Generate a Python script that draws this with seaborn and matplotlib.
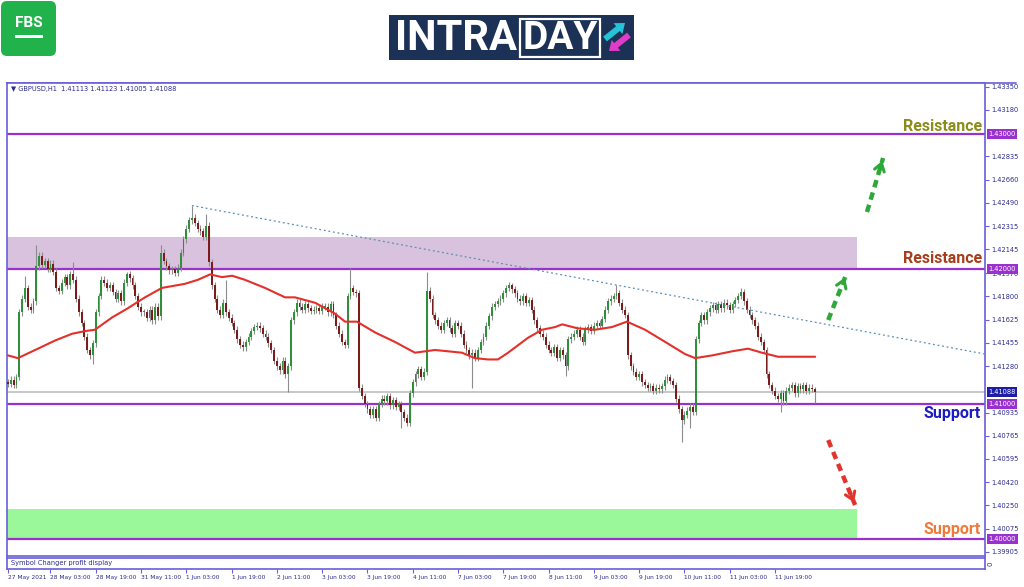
import numpy as np
import pandas as pd
import seaborn as sns
import matplotlib.pyplot as plt
import matplotlib.transforms as mtransforms
from matplotlib.patches import Rectangle, FancyBboxPatch, FancyArrow

# ---- chart values: GBPUSD H1, 27 May - 11 Jun 2021 ----
BASE = 1.40000  # candle / MA values below are in pips (0.0001) above BASE

closes = [
    115, 118, 114, 120, 168, 178, 186, 172, 170, 176, 202, 210, 203, 206, 200, 204,
    198, 186, 184, 190, 194, 188, 196, 192, 178, 168, 160, 150, 140, 136, 145, 168,
    180, 192, 190, 186, 188, 183, 178, 182, 176, 190, 196, 193, 188, 180, 172, 168,
    168, 164, 170, 162, 172, 165, 212, 206, 202, 199, 200, 197, 201, 212, 222, 230,
    236, 238, 234, 230, 228, 224, 232, 205, 188, 178, 170, 166, 175, 168, 164, 160,
    155, 148, 144, 142, 146, 150, 154, 157, 158, 156, 152, 150, 145, 140, 132, 128,
    125, 132, 122, 128, 162, 168, 175, 172, 170, 174, 171, 169, 170, 171, 169, 172,
    172, 168, 174, 166, 158, 152, 146, 144, 180, 186, 183, 182, 112, 106, 100, 96,
    92, 96, 90, 100, 104, 102, 106, 99, 103, 98, 100, 94, 90, 86, 108, 116,
    122, 126, 120, 124, 184, 178, 166, 162, 158, 155, 160, 162, 156, 152, 160, 158,
    152, 144, 140, 136, 138, 134, 140, 146, 150, 158, 165, 172, 174, 176, 178, 182,
    186, 188, 185, 182, 178, 176, 180, 175, 177, 170, 162, 156, 152, 150, 144, 140,
    138, 142, 134, 140, 136, 128, 148, 150, 152, 155, 150, 146, 155, 157, 154, 158,
    160, 158, 163, 170, 176, 178, 180, 182, 175, 170, 166, 136, 128, 124, 120, 122,
    116, 114, 112, 113, 110, 112, 111, 113, 118, 120, 117, 114, 104, 96, 88, 92,
    95, 98, 94, 148, 160, 166, 162, 168, 171, 173, 170, 174, 171, 175, 173, 170,
    174, 177, 180, 183, 176, 170, 166, 162, 158, 150, 146, 140, 122, 114, 110, 106,
    104, 108, 102, 110, 112, 114, 108, 113, 111, 114, 110, 112, 111.13, 108.8,
]
first_open = 116
wick_highs = {6: 195, 10: 218, 23: 205, 42: 198, 54: 218, 65: 247, 70: 241, 77: 192,
              121: 201, 148: 198, 178: 190, 215: 188, 259: 186, 285: 112.3}
wick_lows = {30: 130, 99: 109, 139: 82, 164: 112, 197: 121, 238: 72, 241: 82,
             273: 94, 285: 100.5}

# red moving average (bar index, pips)
ma_bars = [0, 3.5, 10.6, 16.6, 22.6, 27.2, 30.7, 36.7, 42.4, 48.4, 54.4, 62.5, 67.1,
           71.4, 75.6, 79.2, 83.7, 90.8, 97.9, 101.4, 108.5, 115.5, 119.1, 123.3,
           129.7, 136.7, 143.8, 147.3, 150.9, 160.4, 164.9, 169.6, 173.1, 176.7,
           183.7, 188.7, 193.3, 195.8, 201.4, 207.4, 213.4, 218.7, 225.1, 232.2,
           239.2, 242.8, 248.8, 255.8, 261.5, 266.4, 272.1, 285.2]
ma_pips = [136, 134, 141, 147, 152, 154, 155, 164, 171, 179, 186, 189, 192,
           196, 194, 195, 192, 186, 179, 179, 175, 167, 161, 161,
           153, 146, 138, 139, 140, 138, 134, 133, 133, 138,
           149, 155, 157, 159, 156, 155, 157, 161, 155, 146,
           137, 134, 136, 139, 141, 138, 135, 135]

trend_bars = [65, 345.2]
trend_prices = [1.42470, 1.41370]

levels = [1.43000, 1.42000, 1.41000, 1.40000]
bid_price = 1.41088
resist_zone = [1.42000, 1.42237]
support_zone = [1.40010, 1.40222]
zone_end_bar = 300

ytick_values = [1.43350, 1.43180, 1.42835, 1.42660, 1.42490, 1.42315, 1.42145,
                1.41970, 1.41800, 1.41625, 1.41455, 1.41280, 1.40935, 1.40765,
                1.40595, 1.40420, 1.40250, 1.40075, 1.39905]
xtick_bars = [0, 15, 31, 47, 63, 79, 95, 111, 127, 143, 159, 175, 191, 207, 223,
              239, 255, 271]
xtick_labels = ["27 May 2021", "28 May 03:00", "28 May 19:00", "31 May 11:00",
                "1 Jun 03:00", "1 Jun 19:00", "2 Jun 11:00", "3 Jun 03:00",
                "3 Jun 19:00", "4 Jun 11:00", "7 Jun 03:00", "7 Jun 19:00",
                "8 Jun 11:00", "9 Jun 03:00", "9 Jun 19:00", "10 Jun 11:00",
                "11 Jun 03:00", "11 Jun 19:00"]

# scenario arrows: (bar0, price0, bar1, price1, colour)
arrows = [(303.5, 1.42422, 309.2, 1.42822, "#2fa83a"),
          (289.8, 1.41622, 296.1, 1.41956, "#2fa83a"),
          (289.8, 1.40733, 299.3, 1.40252, "#e2342c")]

# zone labels: (text, bar, price, colour)
zone_labels = [("Resistance", 344.2, 1.43052, "#8c8c1c"),
               ("Resistance", 344.2, 1.42081, "#a63e1c"),
               ("Support", 343.5, 1.40926, "#1c1cc4"),
               ("Support", 343.5, 1.40074, "#f07a3a")]

FRAME = "#6a5fd8"
LEVEL = "#9b30d0"
NAVY = "#2b2b90"

sns.set_theme(style="white")
plt.rcParams["font.family"] = ["DejaVu Sans"]

fig = plt.figure(figsize=(10.24, 5.87), dpi=100)
W, H = 1024, 587

# overlay in pixel coordinates for the header logos
over = fig.add_axes([0, 0, 1, 1])
over.set_xlim(0, W)
over.set_ylim(H, 0)
over.axis("off")

# FBS logo
over.add_patch(FancyBboxPatch((1, 1), 55, 55, boxstyle="round,pad=0,rounding_size=6",
                              fc="#22b24c", ec="none"))
over.text(29, 23, "FBS", color="white", fontsize=11, fontweight="bold",
          ha="center", va="center", family="Roboto")
over.add_patch(Rectangle((15, 35), 28, 2.5, fc="white", ec="none"))

# INTRADAY logo
over.add_patch(Rectangle((389, 15), 245, 45, fc="#1c3156", ec="none"))
over.text(395, 38.5, "INTRA", color="white", fontsize=30, fontweight="bold",
          ha="left", va="center", family="Roboto")
over.add_patch(Rectangle((520, 19), 80, 38, fc="none", ec="white", lw=1.6))
over.text(560, 38.5, "DAY", color="white", fontsize=28, fontweight="bold",
          ha="center", va="center", family="Roboto")
over.add_patch(FancyArrow(605, 39, 20, -16, width=6, head_width=14, head_length=9,
                          length_includes_head=True, fc="#25c3d8", ec="none"))
over.add_patch(FancyArrow(629, 35, -20, 16, width=6, head_width=14, head_length=9,
                          length_includes_head=True, fc="#e03cc8", ec="none"))
# window top border continues over the price scale
over.plot([7, 1016], [83, 83], color=FRAME, lw=1.2)

# main price window
ax = fig.add_axes([7 / W, (H - 556) / H, (985 - 7) / W, (556 - 83) / H])
ax.set_facecolor("white")

def px(v):
    return BASE + np.asarray(v, dtype=float) / 10000.0

df = pd.DataFrame({"close": closes})
df["bar"] = np.arange(len(df))
df["open"] = [first_open] + closes[:-1]
df["top"] = df[["open", "close"]].max(axis=1)
df["bot"] = df[["open", "close"]].min(axis=1)
df["high"] = [wick_highs.get(i, t + 2.5) for i, t in zip(df["bar"], df["top"])]
df["low"] = [wick_lows.get(i, b - 2.5) for i, b in zip(df["bar"], df["bot"])]
df["up"] = df["close"] >= df["open"]

# zones
ax.add_patch(Rectangle((-0.35, resist_zone[0]), zone_end_bar + 0.35,
                       resist_zone[1] - resist_zone[0], fc="#d9c2dd", ec="none", zorder=0))
ax.add_patch(Rectangle((-0.35, support_zone[0]), zone_end_bar + 0.35,
                       support_zone[1] - support_zone[0], fc="#9af79a", ec="none", zorder=0))

# level lines and bid line
for lv in levels:
    ax.axhline(lv, color=LEVEL, lw=1.6, zorder=1)
ax.axhline(bid_price, color="#bdbdbd", lw=1.2, zorder=1)

# candles
ax.vlines(df["bar"], px(df["low"]), px(df["high"]), color="#8c8c8c", lw=0.8, zorder=2)
body_h = np.maximum(df["top"] - df["bot"], 0.6) / 10000.0
ax.bar(df["bar"], body_h, bottom=px(df["bot"]), width=0.66,
       color=np.where(df["up"], "#2f8f3a", "#7a1c1c"), edgecolor="none", zorder=3)

# moving average and trend line
sns.lineplot(x=ma_bars, y=px(ma_pips), ax=ax, color="#e3302b", lw=1.5,
             sort=False, estimator=None, zorder=4)
sns.lineplot(x=trend_bars, y=trend_prices, ax=ax, color="#5b8fb4", lw=0.9,
             linestyle=(0, (1.5, 2.2)), sort=False, estimator=None, zorder=4)

# scenario arrows (dashed shaft + open head)
for x0, y0, x1, y1, col in arrows:
    ax.plot([x0, x1], [y0, y1], color=col, lw=3.2, linestyle=(0, (1.7, 1.2)),
            solid_capstyle="butt", zorder=5)
    ax.annotate("", xy=(x1, y1), xytext=(x1 - (x1 - x0) * 0.25, y1 - (y1 - y0) * 0.25),
                arrowprops=dict(arrowstyle="->,head_length=0.45,head_width=0.3",
                                color=col, lw=2.2), zorder=5)

for txt, xb, yp, col in zone_labels:
    ax.text(xb, yp, txt, color=col, fontsize=11.5, fontweight="bold", family="Roboto",
            ha="right", va="center", zorder=6)

ax.text(0.004, 0.987, "\u25BC GBPUSD,H1  1.41113 1.41123 1.41005 1.41088",
        transform=ax.transAxes, fontsize=4.8, color=NAVY, ha="left", va="center")

ax.set_xlim(-0.35, 345.2)
ax.set_ylim(1.398741, 1.433778)
ax.set_xticks([])
ax.yaxis.tick_right()
ax.set_yticks(ytick_values)
ax.set_yticklabels([f"{v:.5f}" for v in ytick_values])
ax.tick_params(axis="y", right=True, length=3, width=0.8, color=FRAME,
               labelsize=4.8, labelcolor=NAVY, pad=1.5)
ax.set_xlabel("")
ax.set_ylabel("")
for s in ax.spines.values():
    s.set_color(FRAME)
    s.set_linewidth(1.2)

# highlighted price labels on the scale
blend = mtransforms.blended_transform_factory(ax.transAxes, ax.transData)
for lv in levels:
    ax.text(1.0035, lv, f"{lv:.5f}", transform=blend, fontsize=4.8, color="white",
            ha="left", va="center", clip_on=False, zorder=10,
            bbox=dict(boxstyle="square,pad=0.25", fc=LEVEL, ec="none"))
ax.text(1.0035, bid_price, f"{bid_price:.5f}", transform=blend, fontsize=4.8,
        color="white", ha="left", va="center", clip_on=False, zorder=10,
        bbox=dict(boxstyle="square,pad=0.25", fc="#1c1ca8", ec="none"))

# indicator sub-window with the time axis
ax2 = fig.add_axes([7 / W, (H - 569) / H, (985 - 7) / W, 11 / H])
ax2.set_facecolor("white")
ax2.set_xlim(-0.35, 345.2)
ax2.set_yticks([])
ax2.set_xticks(xtick_bars)
ax2.set_xticklabels(xtick_labels, ha="left")
ax2.tick_params(axis="x", bottom=True, length=3, width=0.8, color=FRAME,
                labelsize=4.2, labelcolor=NAVY, pad=1)
for s in ax2.spines.values():
    s.set_color(FRAME)
    s.set_linewidth(1.2)
ax2.text(0.004, 0.5, "Symbol Changer profit display", transform=ax2.transAxes,
         fontsize=4.8, color=NAVY, ha="left", va="center")
ax2.text(1.003, 0.5, "0", transform=ax2.transAxes, fontsize=5, color=NAVY,
         ha="left", va="center", rotation=90)

fig.savefig("out.png", dpi=100)
